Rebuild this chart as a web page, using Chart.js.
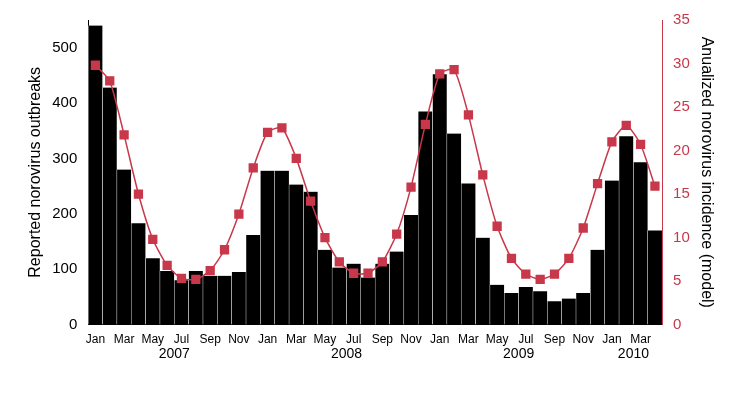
<!DOCTYPE html>
<html><head><meta charset="utf-8">
<script src="https://cdn.jsdelivr.net/npm/chart.js@4"></script>
<style>body{margin:0;background:#fff}#w{width:750px;height:410px}</style>
</head><body><div id="w"><canvas id="c"></canvas></div>
<script>
const months=["Jan","Feb","Mar","Apr","May","Jun","Jul","Aug","Sep","Oct","Nov","Dec"];
const categories=[];
for(let y=2007;y<=2010;y++)for(let m=0;m<12;m++){if(y===2010&&m>3)break;categories.push(months[m]+" "+y);}
const years=["2007","2008","2009","2010"];
const outbreaks=[540,428,280,183,120,97,80,97,88,88,95,162,278,278,253,240,135,103,110,85,110,132,198,385,452,345,255,157,72,57,68,60,42,47,57,135,260,340,293,170];
const incidence=[29.8,28,21.8,15,9.8,6.8,5.3,5.2,6.2,8.6,12.7,18,22.1,22.6,19.1,14.2,10,7.2,5.9,5.9,7.2,10.4,15.8,23,28.8,29.3,24.1,17.2,11.3,7.6,5.8,5.2,5.8,7.6,11.1,16.2,21,22.9,20.7,15.9];
const red="#c8374a";
const yearPlugin={id:"yr",afterDraw(ch){const x=ch.scales.x,ctx=ch.ctx;ctx.save();ctx.font="14px Arial, Liberation Sans";ctx.fillStyle="#000";ctx.textAlign="center";
years.forEach(y=>{const idx=categories.map((c,i)=>c.endsWith(y)?i:-1).filter(i=>i>=0);const a=x.getPixelForValue(idx[0]),b=x.getPixelForValue(idx[idx.length-1]);ctx.fillText(y,(a+b)/2,ch.chartArea.bottom+33);});ctx.restore();}};
new Chart(document.getElementById("c"),{
data:{labels:categories,datasets:[
{type:"line",data:incidence,yAxisID:"y2",borderColor:red,backgroundColor:red,pointStyle:"rect",pointRadius:5.5,borderWidth:1.5,tension:0.2,order:0},
{type:"bar",data:outbreaks,yAxisID:"y",backgroundColor:"#000",borderColor:"#fff",borderWidth:{left:0.5,right:0.5},barPercentage:1,categoryPercentage:1,order:1}]},
options:{responsive:true,maintainAspectRatio:false,animation:false,
layout:{padding:{left:22,right:30,top:20,bottom:60}},
plugins:{legend:{display:false},tooltip:{enabled:false}},
scales:{
x:{grid:{display:false,drawTicks:true,tickLength:5},border:{color:"#000"},ticks:{color:"#000",font:{size:12,family:"Arial, Liberation Sans"},autoSkip:false,maxRotation:0,callback:(v,i)=>i%2===0?categories[i].split(" ")[0]:""}},
y:{position:"left",min:0,max:550,grid:{display:false},border:{color:"#000"},ticks:{stepSize:100,color:"#000",font:{size:15,family:"Arial, Liberation Sans"},callback:v=>v<=500?v:""},title:{display:true,text:"Reported norovirus outbreaks",color:"#000",font:{size:16,family:"Arial, Liberation Sans"}}},
y2:{position:"right",min:0,max:35,grid:{display:false},border:{color:red},ticks:{stepSize:5,color:red,font:{size:15,family:"Arial, Liberation Sans"}},title:{display:true,text:"Anualized norovirus incidence (model)",color:"#000",font:{size:16,family:"Arial, Liberation Sans"}}}
}},plugins:[yearPlugin]});
</script></body></html>
